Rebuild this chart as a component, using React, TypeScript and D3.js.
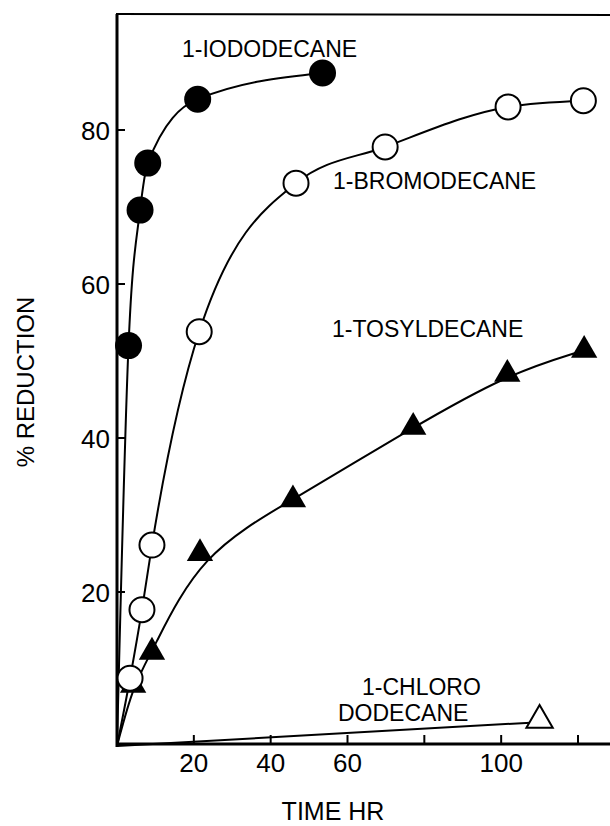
import React, { useEffect, useRef } from 'react'
import * as d3 from 'd3'

// time in hours, % reduction
const iodoTime = [0, 3, 6, 8, 21, 53.5]
const iodoPct = [0, 52, 69.6, 75.7, 84, 87.4]

const bromoTime = [0, 3.4, 6.5, 9.1, 21.4, 46.6, 69.8, 101.8, 121.4]
const bromoPct = [0, 8.8, 17.7, 26.1, 53.8, 73.1, 77.8, 83, 83.8]

const tosylTime = [0, 4.2, 9.1, 21.6, 45.8, 77.1, 101.6, 121.6]
const tosylPct = [0, 7.9, 12.2, 25, 32, 41.4, 48.3, 51.4]

const chloroTime = [0, 110]
const chloroPct = [0, 3.1]

const xTicks = [20, 40, 60, 80, 100, 120]
const xTickLabels = ['20', '40', '60', '', '100', '']
const yTicks = [20, 40, 60, 80]

const FONT = "'Liberation Sans', Arial, sans-serif"

const draw = (el: SVGSVGElement) => {
    const svg = d3.select(el)
    svg.selectAll('*').remove()

    const x = d3.scaleLinear().domain([0, 120]).range([117, 578])
    const y = d3.scaleLinear().domain([0, 80]).range([746, 130])

    const frameTop = 14
    const frameRight = 610

    // frame: left spine, bottom axis, top line
    svg.append('line')
        .attr('x1', x(0)).attr('x2', x(0))
        .attr('y1', frameTop).attr('y2', y(0) + 1)
        .attr('stroke', '#000').attr('stroke-width', 3)
    svg.append('line')
        .attr('x1', x(0) - 1).attr('x2', frameRight)
        .attr('y1', y(0) - 2).attr('y2', y(0) - 2)
        .attr('stroke', '#000').attr('stroke-width', 3)
    svg.append('line')
        .attr('x1', x(0) - 1).attr('x2', frameRight)
        .attr('y1', frameTop).attr('y2', frameTop + 1)
        .attr('stroke', '#000').attr('stroke-width', 2)

    // ticks point into the plot
    xTicks.forEach((t, i) => {
        svg.append('line')
            .attr('x1', x(t)).attr('x2', x(t))
            .attr('y1', y(0) - 2).attr('y2', y(0) - 11)
            .attr('stroke', '#000').attr('stroke-width', 2)
        if (xTickLabels[i]) {
            svg.append('text')
                .attr('x', x(t)).attr('y', 772)
                .attr('text-anchor', 'middle')
                .attr('font-family', FONT).attr('font-size', 26)
                .text(xTickLabels[i])
        }
    })
    yTicks.forEach(t => {
        svg.append('line')
            .attr('x1', x(0)).attr('x2', x(0) + 8)
            .attr('y1', y(t)).attr('y2', y(t))
            .attr('stroke', '#000').attr('stroke-width', 2)
        svg.append('text')
            .attr('x', 110).attr('y', y(t) + 9.5)
            .attr('text-anchor', 'end')
            .attr('font-family', FONT).attr('font-size', 26)
            .text(String(t))
    })

    // axis titles
    svg.append('text')
        .attr('x', 333).attr('y', 820)
        .attr('text-anchor', 'middle')
        .attr('font-family', FONT).attr('font-size', 25)
        .text('TIME HR')
    svg.append('text')
        .attr('transform', 'translate(34, 382) rotate(-90)')
        .attr('text-anchor', 'middle')
        .attr('font-family', FONT).attr('font-size', 24)
        .text('% REDUCTION')

    // curves - hand fitted in the original, so tosyl gets a smoothing spline
    const line = (curve: d3.CurveFactory) =>
        d3
            .line<[number, number]>()
            .x(d => x(d[0]))
            .y(d => y(d[1]))
            .curve(curve)

    const series = [
        { t: chloroTime, p: chloroPct, curve: d3.curveLinear },
        { t: tosylTime, p: tosylPct, curve: d3.curveBasis },
        { t: bromoTime, p: bromoPct, curve: d3.curveMonotoneX },
        { t: iodoTime, p: iodoPct, curve: d3.curveMonotoneX }
    ]
    series.forEach(s => {
        svg.append('path')
            .datum(d3.zip(s.t, s.p) as [number, number][])
            .attr('d', line(s.curve))
            .attr('fill', 'none')
            .attr('stroke', '#000')
            .attr('stroke-width', 2)
    })

    // markers (origin is not marked)
    const tri = d3.symbol().type(d3.symbolTriangle).size(300)

    svg.append('path')
        .attr('d', tri())
        .attr('transform', `translate(${x(chloroTime[1])}, ${y(chloroPct[1]) - 2})`)
        .attr('fill', '#fff').attr('stroke', '#000').attr('stroke-width', 2)

    svg.selectAll('path.tosyl')
        .data(d3.zip(tosylTime, tosylPct).slice(1))
        .join('path')
        .attr('class', 'tosyl')
        .attr('d', tri())
        .attr('transform', d => `translate(${x(d[0])}, ${y(d[1])})`)
        .attr('fill', '#000')

    svg.selectAll('circle.bromo')
        .data(d3.zip(bromoTime, bromoPct).slice(1))
        .join('circle')
        .attr('class', 'bromo')
        .attr('cx', d => x(d[0]))
        .attr('cy', d => y(d[1]))
        .attr('r', 12.5)
        .attr('fill', '#fff').attr('stroke', '#000').attr('stroke-width', 2)

    svg.selectAll('circle.iodo')
        .data(d3.zip(iodoTime, iodoPct).slice(1))
        .join('circle')
        .attr('class', 'iodo')
        .attr('cx', d => x(d[0]))
        .attr('cy', d => y(d[1]))
        .attr('r', 13.5)
        .attr('fill', '#000')

    // series labels
    const labels = [
        { text: '1-IODODECANE', x: 182, y: 57 },
        { text: '1-BROMODECANE', x: 333, y: 189 },
        { text: '1-TOSYLDECANE', x: 332, y: 337 },
        { text: '1-CHLORO', x: 362, y: 695 },
        { text: 'DODECANE', x: 338, y: 721 }
    ]
    labels.forEach(l => {
        svg.append('text')
            .attr('x', l.x).attr('y', l.y)
            .attr('font-family', FONT).attr('font-size', 23)
            .text(l.text)
    })
}

export default function App() {
    const ref = useRef<SVGSVGElement>(null)
    useEffect(() => {
        if (ref.current) draw(ref.current)
    }, [])
    return (
        <svg
            ref={ref}
            width={610}
            height={826}
            style={{ position: 'absolute', left: 0, top: 0, background: '#fff' }}
        />
    )
}
